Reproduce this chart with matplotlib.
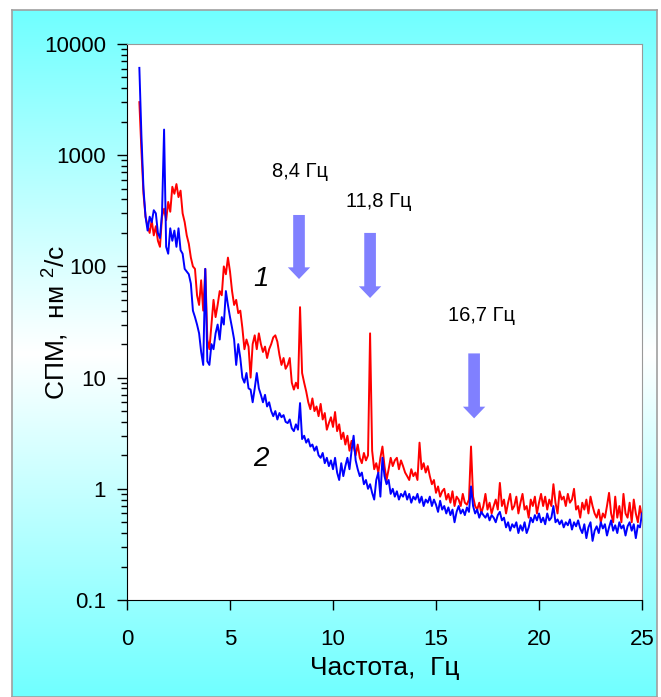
import matplotlib
matplotlib.use('Agg')
import matplotlib.pyplot as plt
import numpy as np

plt.rcParams['font.family'] = ['Liberation Sans', 'DejaVu Sans']
plt.rcParams['mathtext.fontset'] = 'custom'
plt.rcParams['mathtext.rm'] = 'Liberation Sans'

# frequency grid, Hz (0.6 ... 25.0, step 0.1)
freq = np.round(np.arange(0.6, 25.01, 0.1), 1)

# curve 1 (red), one row per Hz
spm_1 = [
    3000, 1100, 450, 280,
    230, 200, 260, 190, 230, 170, 150, 280, 330, 260,
    380, 310, 520, 450, 550, 420, 480, 300, 250, 190,
    160, 120, 100, 95, 55, 45, 75, 40, 95, 22,
    18, 30, 50, 35, 45, 60, 55, 100, 85, 120,
    90, 60, 45, 50, 38, 40, 28, 18, 22, 19,
    10, 20, 24, 18, 25, 20, 17, 19, 15, 18,
    20, 23, 24, 21, 16, 13, 15, 12, 13, 15,
    9, 7.8, 9, 8, 43, 11, 9, 7.5, 6, 5.2,
    6.5, 5, 5.5, 4.5, 5.8, 4.2, 4.8, 3.4, 3.9, 4.4,
    3.6, 4.9, 3.3, 3.8, 2.8, 3.2, 2.5, 3.0, 2.2, 2.7,
    2.4, 2.0, 2.5, 1.9, 1.7, 2.1, 1.8, 2.0, 25, 2.2,
    1.5, 1.7, 1.4, 1.9, 2.4, 1.6, 1.2, 1.5, 1.9, 1.6,
    1.8, 1.9, 1.5, 1.8, 1.6, 1.4, 1.3, 1.2, 1.5, 1.3,
    1.4, 1.2, 2.6, 1.5, 1.7, 1.4, 1.6, 1.3, 1.1, 1.2,
    0.92, 1.05, 0.85, 0.95, 1.0, 0.8, 0.9, 0.75, 0.95, 0.7,
    0.85, 0.8, 0.7, 0.9, 0.75, 0.72, 0.8, 2.4, 0.85, 0.7,
    0.65, 0.75, 0.6, 0.7, 0.9, 0.65, 0.75, 0.6, 0.7, 0.8,
    0.65, 1.13, 0.7, 0.8, 0.6, 0.75, 0.9, 0.65, 0.7, 0.85,
    0.6, 0.75, 0.9, 0.65, 0.7, 0.55, 0.8, 0.7, 0.85, 0.6,
    0.75, 0.9, 0.7, 0.85, 0.65, 0.8, 0.7, 1.1, 0.75, 0.6,
    0.95, 0.8, 0.85, 0.7, 0.9, 0.75, 0.8, 1.0, 0.65, 0.7,
    0.55, 0.75, 0.65, 0.8, 0.6, 0.85, 0.7, 0.6, 0.55, 0.65,
    0.5, 0.6, 0.55, 0.7, 0.92, 0.6, 0.5, 0.85, 0.55, 0.7,
    0.5, 0.9, 0.6, 0.55, 0.75, 0.5, 0.8, 0.6, 0.5, 0.7,
    0.55,
]

# curve 2 (blue)
spm_2 = [
    6100, 1500, 500, 280,
    210, 280, 250, 320, 300, 200, 180, 300, 1700, 150,
    130, 220, 170, 210, 150, 220, 140, 130, 95, 90,
    85, 70, 40, 35, 30, 25, 17, 13, 95, 14,
    13, 20, 18, 25, 30, 22, 35, 30, 60, 45,
    35, 28, 22, 13, 20, 15, 10, 9, 11, 8,
    7.8, 6, 8, 11, 8, 7, 6, 7, 5.5, 6,
    5, 4.5, 5, 4.2, 4.8, 4.4, 4.6, 4.0, 3.9, 4.2,
    3.5, 3.3, 3.8, 3.4, 5.9, 2.8, 3.0, 2.6, 2.8, 2.4,
    2.5, 2.2, 2.4, 2.0, 1.9, 2.1, 1.7, 1.9, 1.6, 1.8,
    1.5, 1.9, 1.4, 1.2, 1.7, 1.3, 1.6, 1.9, 1.5, 2.2,
    3.0, 1.8, 1.5, 1.3, 1.4, 1.1, 1.2, 1.0, 1.1, 0.92,
    0.8, 1.2, 1.4, 0.85, 1.9, 1.3, 1.1, 1.2, 0.9, 1.0,
    0.85, 0.95, 0.8, 0.9, 0.85, 0.95, 0.8, 0.9, 0.75, 0.85,
    0.8, 0.9, 0.75, 0.85, 0.7, 0.8, 0.75, 0.85, 0.7, 0.8,
    0.72, 0.62, 0.78, 0.65, 0.7, 0.6, 0.68, 0.58, 0.65, 0.5,
    0.62, 0.7, 0.6, 0.65, 0.58, 0.68, 0.62, 1.05, 0.7, 0.6,
    0.65, 0.55, 0.62, 0.58, 0.55, 0.6, 0.52, 0.58, 0.55, 0.5,
    0.58, 0.62, 0.52, 0.55, 0.45, 0.5, 0.42, 0.48, 0.45, 0.5,
    0.4, 0.47, 0.42, 0.5, 0.4, 0.45, 0.55, 0.5, 0.58, 0.52,
    0.6, 0.5, 0.55, 0.48, 0.6, 0.52, 0.55, 0.7, 0.5, 0.53,
    0.48, 0.52, 0.45, 0.5, 0.47, 0.53, 0.43, 0.5, 0.46, 0.52,
    0.44, 0.4, 0.48, 0.36, 0.45, 0.5, 0.34, 0.42, 0.46, 0.4,
    0.5, 0.44, 0.48, 0.38, 0.45, 0.52, 0.42, 0.47, 0.4, 0.5,
    0.44, 0.47, 0.38, 0.46, 0.5, 0.42, 0.48, 0.36, 0.47, 0.45,
    0.6,
]

y_ticks = [0.1, 1, 10, 100, 1000, 10000]
y_tick_labels = ['0.1', '1', '10', '100', '1000', '10000']
x_ticks = [0, 5, 10, 15, 20, 25]

# peaks: label, label position (f, spm), arrow x, arrow top, arrow tip
peaks = [
    ('8,4 Гц', 8.4, 720, 8.35, 290, 77),
    ('11,8 Гц', 12.2, 380, 11.8, 200, 52),
    ('16,7 Гц', 17.2, 36, 16.85, 16.5, 4.3),
]

fig = plt.figure(figsize=(6.61, 6.97), dpi=100)

# cyan gradient panel behind the chart
bg = fig.add_axes([12 / 661, 0.0, 645 / 661, 687 / 697])
t = np.linspace(0, 1, 256)
w = 1 - np.abs(t - 0.5) * 2
cyan = np.array([0.44, 1.0, 1.0])
grad = cyan[None, :] + (1 - cyan[None, :]) * w[:, None]
bg.imshow(grad[:, None, :], aspect='auto', extent=[0, 1, 0, 1])
bg.set_xticks([])
bg.set_yticks([])
for s in bg.spines.values():
    s.set_color('#a0a0a0')
    s.set_linewidth(1.2)

ax = fig.add_axes([127 / 661, 97 / 697, 515 / 661, 556 / 697])
ax.set_facecolor('white')
ax.plot(freq, spm_1, color='#ff0000', lw=1.4)
ax.plot(freq, spm_2, color='#0000ff', lw=1.4)

ax.set_yscale('log')
ax.set_xlim(0, 25)
ax.set_ylim(0.1, 10000)
ax.set_yticks(y_ticks)
ax.set_yticklabels(y_tick_labels)
ax.set_xticks(x_ticks)
ax.tick_params(axis='both', which='major', direction='out', length=7, width=1,
               labelsize=16, color='black')
ax.tick_params(axis='y', which='minor', direction='out', length=4, width=1)
ax.tick_params(axis='y', pad=8)
ax.tick_params(axis='x', pad=14)
for side in ['top', 'right']:
    ax.spines[side].set_color('#999999')
for side in ['left', 'bottom']:
    ax.spines[side].set_color('black')

for label, lx, ly, ax_x, top, tip in peaks:
    ax.text(lx, ly, label, fontsize=14.5, ha='center', va='center')
    ax.annotate('', xy=(ax_x, tip), xytext=(ax_x, top),
                arrowprops=dict(arrowstyle='simple,head_length=0.6,head_width=1.15,tail_width=0.6',
                                color='#8080ff', lw=0, shrinkA=0, shrinkB=0,
                                mutation_scale=14))

ax.text(6.5, 77, '1', fontsize=20, style='italic', ha='center', va='center')
ax.text(6.5, 1.86, '2', fontsize=20, style='italic', ha='center', va='center')

fig.text(385 / 661, 1 - 668 / 697, 'Частота,  Гц', fontsize=19, ha='center', va='center')
fig.text(55 / 661, 1 - 322 / 697, 'СПМ,  нм $^{2}$/с', fontsize=19, rotation=90,
         ha='center', va='center')

fig.savefig('out.png', dpi=100)
